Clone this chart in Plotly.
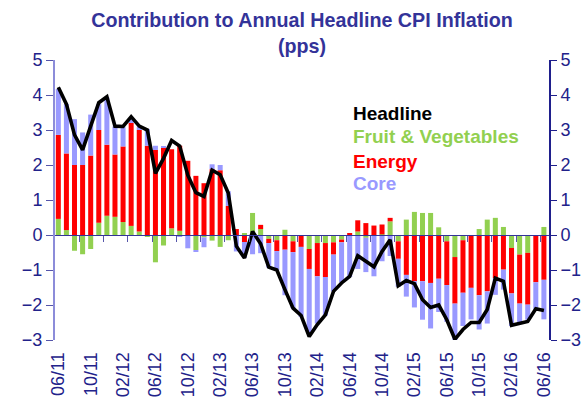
import plotly.graph_objects as go
import pandas as pd

months = list(pd.date_range("2011-06-01", periods=61, freq="MS").strftime("%m/%y"))
tick_labels = ["06/11", "10/11", "02/12", "06/12", "10/12", "02/13", "06/13", "10/13",
               "02/14", "06/14", "10/14", "02/15", "06/15", "10/15", "02/16", "06/16"]

fruit_veg = [0.46, 0.14, -0.45, -0.55, -0.40, 0.35, 0.55, 0.52, 0.37, 0.26,
             0.10, -0.05, -0.78, -0.30, 0.19, 0.12, 0.00, -0.43, -0.07, -0.16,
             -0.34, -0.15, 0.00, 0.05, 0.63, 0.17, -0.11, -0.15, 0.15, -0.18,
             0.00, -0.40, -0.23, -0.23, -0.21, -0.13, 0.00, 0.10, -0.08, 0.00,
             0.02, 0.39, -0.18, 0.44, 0.66, 0.63, 0.63, 0.22, -0.18, -0.63,
             -0.15, 0.00, 0.17, 0.44, 0.49, 0.23, -0.37, -0.56, -0.51, 0.00, 0.23]
energy = [2.40, 2.19, 2.00, 2.00, 2.27, 2.65, 2.03, 1.78, 2.16, 2.94,
          2.90, 2.55, 2.43, 2.49, 2.26, 2.43, 2.12, 1.69, 1.48, 1.88,
          1.85, 0.83, 0.17, -0.20, 0.00, 0.12, -0.12, -0.31, -0.42, -0.31,
          -0.34, -0.57, -0.95, -0.97, -0.35, -0.08, 0.03, 0.32, 0.34, 0.27,
          0.28, 0.10, -0.50, -1.14, -1.32, -1.32, -1.37, -1.25, -1.25, -1.33,
          -1.50, -1.51, -1.72, -1.61, -1.23, -0.99, -1.30, -1.40, -1.48, -1.35, -1.28]
core = [1.31, 1.41, 1.31, 0.93, 1.17, 0.74, 1.35, 0.80, 0.55, 0.12,
        0.10, 0.48, 0.12, 0.05, 0.00, -0.05, -0.38, -0.05, -0.28, 0.14,
        0.15, 0.42, -0.47, -0.45, -0.55, -0.52, -0.70, -0.55, -1.30, -1.60,
        -2.00, -1.85, -1.35, -1.10, -1.05, -1.15, -1.20, -0.97, -0.98, -1.18,
        -0.75, -0.60, -0.80, -0.62, -0.75, -1.10, -1.30, -0.95, -1.05, -1.05,
        -0.95, -0.90, -0.98, -0.92, -0.48, -0.57, -0.93, -0.55, -0.43, -0.78, -1.13]
headline = [4.22, 3.74, 2.86, 2.43, 3.11, 3.78, 3.95, 3.11, 3.10, 3.38,
            3.11, 3.00, 1.76, 2.19, 2.70, 2.54, 1.71, 1.21, 1.10, 1.85,
            1.72, 1.20, -0.32, -0.66, 0.10, -0.25, -0.92, -1.00, -1.56, -2.09,
            -2.30, -2.90, -2.56, -2.28, -1.61, -1.37, -1.18, -0.59, -0.75, -0.91,
            -0.47, -0.14, -1.45, -1.30, -1.39, -1.85, -2.07, -2.00, -2.42, -2.98,
            -2.70, -2.50, -2.50, -2.13, -1.23, -1.32, -2.58, -2.53, -2.47, -2.11, -2.16]

y_ticks = [5, 4, 3, 2, 1, 0, -1, -2, -3]
minor_tick_pos = [-0.42 + 3 * k for k in range(21)]

GREEN = "#92D050"
RED = "#FF0000"
LAV = "#9999FF"
NAVY = "#1f1f8c"
TXT = "#22228a"
FONT = "Liberation Sans, Arial, sans-serif"

fig = go.Figure()
fig.add_trace(go.Bar(x=months, y=fruit_veg, name="Fruit & Vegetables", marker_color=GREEN, marker_line_width=0))
fig.add_trace(go.Bar(x=months, y=energy, name="Energy", marker_color=RED, marker_line_width=0))
fig.add_trace(go.Bar(x=months, y=core, name="Core", marker_color=LAV, marker_line_width=0))
fig.add_trace(go.Scatter(x=months, y=headline, name="Headline", mode="lines",
                         line=dict(color="black", width=3.6)))
# dummy traces to activate the secondary axes
fig.add_trace(go.Scatter(x=[None], y=[None], xaxis="x2", yaxis="y", showlegend=False, hoverinfo="skip"))
fig.add_trace(go.Scatter(x=[None], y=[None], xaxis="x", yaxis="y2", showlegend=False, hoverinfo="skip"))

xr = [-0.41, 60.63]
fig.update_layout(
    width=587, height=412,
    margin=dict(l=55, r=38, t=60, b=72),
    plot_bgcolor="white", paper_bgcolor="white",
    barmode="relative", bargap=0.38,
    showlegend=False,
    font=dict(family=FONT, color=TXT),
    title=dict(text="<b>Contribution to Annual Headline CPI Inflation<br>(pps)</b>",
               x=0.5, xanchor="center", xref="paper", y=1 - 27 / 412, yanchor="middle",
               yref="container", automargin=False,
               font=dict(size=19.7, color="#333399", family=FONT)),
    xaxis=dict(type="category", range=xr, tickvals=tick_labels, ticktext=tick_labels,
               tickangle=-90, ticks="outside", ticklen=4, tickcolor="rgba(0,0,0,0)",
               showline=False, showgrid=False, zeroline=False, automargin=False,
               tickfont=dict(size=18, color=TXT, family=FONT)),
    xaxis2=dict(type="linear", range=xr, overlaying="x", anchor="free", position=0.375,
                tickvals=minor_tick_pos, ticks="outside", ticklen=6, tickcolor="#5555aa",
                showticklabels=False, showline=True, linecolor="#333399", linewidth=1,
                showgrid=False, zeroline=False, automargin=False),
    yaxis=dict(range=[-3, 5], tickvals=y_ticks, ticks="outside", ticklen=7,
               tickcolor="#5555aa", showline=True, linecolor="#8c8cd9", linewidth=2,
               showgrid=False, zeroline=False, automargin=False,
               tickfont=dict(size=18, color=TXT, family=FONT)),
    yaxis2=dict(range=[-3, 5], tickvals=y_ticks, overlaying="y", side="right", anchor="x",
                ticks="outside", ticklen=6, tickcolor=NAVY, showline=True,
                linecolor=NAVY, linewidth=2, showgrid=False, zeroline=False, automargin=False,
                tickfont=dict(size=18, color=TXT, family=FONT)),
)

legend_items = [("Headline", "black", 0.809), ("Fruit & Vegetables", GREEN, 0.727),
                ("Energy", RED, 0.638), ("Core", LAV, 0.558)]
for text, col, yy in legend_items:
    fig.add_annotation(text=f"<b>{text}</b>", xref="paper", yref="paper", x=0.599, y=yy,
                       xanchor="left", yanchor="middle", showarrow=False,
                       font=dict(size=19, color=col, family=FONT))

fig.write_html("out.html", config={"displayModeBar": False},
               post_script="document.body.style.margin='0';document.body.style.padding='0';")
